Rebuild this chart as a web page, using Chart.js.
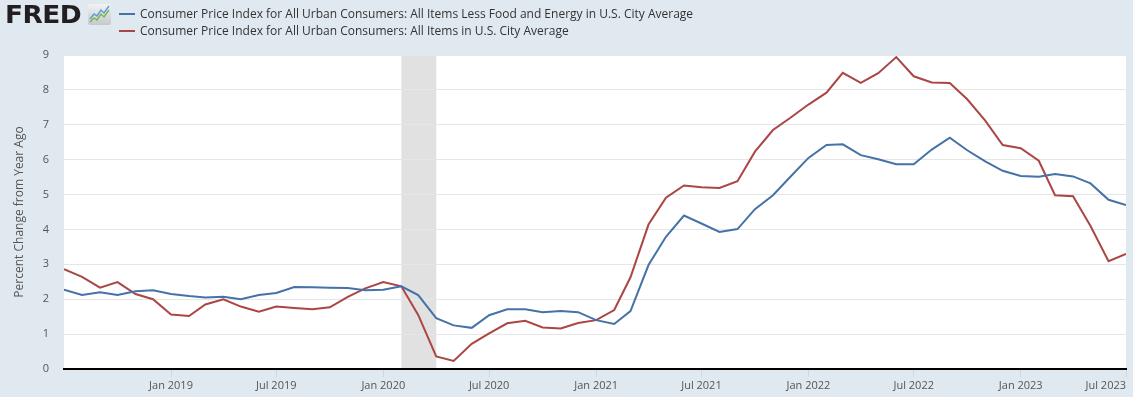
<!DOCTYPE html>
<html>
<head>
<meta charset="utf-8">
<script src="https://cdn.jsdelivr.net/npm/chart.js@4.4.1/dist/chart.umd.min.js"></script>
<style>
  html, body { margin: 0; padding: 0; background: #e1e9f0; }
  #wrap { position: relative; width: 1133px; height: 397px; }
  #chart { position: absolute; left: 0; top: 0; }
  #logo { position: absolute; left: 5px; top: 1px; font: 900 24px 'DejaVu Sans', sans-serif; color: #231f20; letter-spacing: -0.5px; transform: scaleX(1.1); transform-origin: left top; }
  #icon { position: absolute; left: 88px; top: 4px; }
  #legend { position: absolute; left: 119px; top: 5px; font: 12px 'Open Sans', sans-serif; color: #333; }
  .item { height: 17px; line-height: 17px; white-space: nowrap; }
  .sw { display: inline-block; width: 16px; height: 2px; vertical-align: middle; margin-right: 5px; position: relative; top: -1px; }
</style>
</head>
<body>
<div id="wrap">
  <canvas id="chart" width="1133" height="397"></canvas>
  <div id="logo">FRED</div>
  <svg id="icon" width="23" height="21" viewBox="0 0 23 21">
    <defs><linearGradient id="g" x1="0" y1="0" x2="0" y2="1"><stop offset="0" stop-color="#f2f2f2"/><stop offset="1" stop-color="#c4c9cd"/></linearGradient></defs>
    <rect x="0" y="0" width="23" height="21" rx="2" fill="url(#g)"/>
    <polyline points="2,15 6,10 9,12 13,6 16,9 21,2" fill="none" stroke="#5b9bd5" stroke-width="1.4"/>
    <polyline points="2,18 6,14 9,16 13,10 16,13 21,6" fill="none" stroke="#7fb446" stroke-width="1.4"/>
  </svg>
  <div id="legend"></div>
</div>
<script>
// --- 資料 ---
const months = [
  '2018-07','2018-08','2018-09','2018-10','2018-11','2018-12',
  '2019-01','2019-02','2019-03','2019-04','2019-05','2019-06','2019-07','2019-08','2019-09','2019-10','2019-11','2019-12',
  '2020-01','2020-02','2020-03','2020-04','2020-05','2020-06','2020-07','2020-08','2020-09','2020-10','2020-11','2020-12',
  '2021-01','2021-02','2021-03','2021-04','2021-05','2021-06','2021-07','2021-08','2021-09','2021-10','2021-11','2021-12',
  '2022-01','2022-02','2022-03','2022-04','2022-05','2022-06','2022-07','2022-08','2022-09','2022-10','2022-11','2022-12',
  '2023-01','2023-02','2023-03','2023-04','2023-05','2023-06','2023-07'
];
const coreCpi = [
  2.27, 2.12, 2.20, 2.12, 2.23, 2.26,
  2.15, 2.09, 2.05, 2.07, 2.00, 2.12, 2.18, 2.35, 2.34, 2.33, 2.32, 2.26,
  2.27, 2.37, 2.12, 1.46, 1.25, 1.18, 1.54, 1.71, 1.71, 1.63, 1.66, 1.63,
  1.40, 1.29, 1.66, 2.98, 3.79, 4.40, 4.17, 3.93, 4.01, 4.58, 4.98, 5.51,
  6.05, 6.42, 6.44, 6.13, 6.01, 5.87, 5.87, 6.29, 6.63, 6.27, 5.95, 5.68,
  5.53, 5.51, 5.59, 5.52, 5.32, 4.85, 4.70
];
const allCpi = [
  2.86, 2.64, 2.33, 2.49, 2.15, 2.00,
  1.56, 1.52, 1.85, 2.00, 1.79, 1.64, 1.79, 1.75, 1.71, 1.77, 2.07, 2.31,
  2.49, 2.37, 1.55, 0.36, 0.23, 0.72, 1.02, 1.31, 1.38, 1.19, 1.16, 1.32,
  1.40, 1.69, 2.63, 4.14, 4.91, 5.26, 5.21, 5.19, 5.38, 6.23, 6.85, 7.20,
  7.58, 7.92, 8.49, 8.20, 8.48, 8.94, 8.39, 8.21, 8.20, 7.73, 7.12, 6.42,
  6.33, 5.97, 4.98, 4.95, 4.10, 3.09, 3.30
];
const tickMonths = ['2018-07','2019-01','2019-07','2020-01','2020-07','2021-01','2021-07','2022-01','2022-07','2023-01','2023-07'];
const tickLabels = ['', 'Jan 2019','Jul 2019','Jan 2020','Jul 2020','Jan 2021','Jul 2021','Jan 2022','Jul 2022','Jan 2023','Jul 2023'];
const recession = ['2020-02', '2020-04'];
const seriesNames = [
  'Consumer Price Index for All Urban Consumers: All Items Less Food and Energy in U.S. City Average',
  'Consumer Price Index for All Urban Consumers: All Items in U.S. City Average'
];
const seriesColors = ['#4572a7', '#aa4643'];

// 月份轉換成天數 (以 2018-07 為起點)
const t0 = Date.UTC(2018, 6, 1);
function dayOf(m) {
  const [y, mo] = m.split('-').map(Number);
  return (Date.UTC(y, mo - 1, 1) - t0) / 86400000;
}

document.getElementById('legend').innerHTML = seriesNames.map((n, i) =>
  `<div class="item"><span class="sw" style="background:${seriesColors[i]}"></span>${n}</div>`
).join('');

// 白底 + 衰退期陰影
const plotBg = {
  id: 'plotBg',
  beforeDraw(chart) {
    const { ctx, chartArea: a, scales: { x } } = chart;
    ctx.save();
    ctx.fillStyle = '#ffffff';
    ctx.fillRect(a.left, a.top, a.right - a.left, a.bottom - a.top);
    const x1 = x.getPixelForValue(dayOf(recession[0]));
    const x2 = x.getPixelForValue(dayOf(recession[1]));
    ctx.fillStyle = '#e1e1e1';
    ctx.fillRect(x1, a.top, x2 - x1, a.bottom - a.top);
    ctx.restore();
  }
};

const toPoints = vals => vals.map((v, i) => ({ x: dayOf(months[i]), y: v }));

new Chart(document.getElementById('chart'), {
  type: 'line',
  data: {
    datasets: [
      { label: seriesNames[0], data: toPoints(coreCpi), borderColor: seriesColors[0], borderWidth: 2, pointRadius: 0, tension: 0 },
      { label: seriesNames[1], data: toPoints(allCpi), borderColor: seriesColors[1], borderWidth: 2, pointRadius: 0, tension: 0 }
    ]
  },
  options: {
    responsive: false,
    animation: false,
    layout: { padding: { left: 0, top: 55, right: 7, bottom: 0 } },
    plugins: { legend: { display: false }, tooltip: { enabled: false } },
    scales: {
      x: {
        type: 'linear',
        min: dayOf(months[0]),
        max: dayOf(months[months.length - 1]),
        afterBuildTicks: s => { s.ticks = tickMonths.map(m => ({ value: dayOf(m) })); },
        afterFit: s => { s.height = 28; },
        grid: {
          drawOnChartArea: false,
          tickLength: 8,
          tickColor: ctx => ctx.index === 0 ? 'rgba(0,0,0,0)' : '#ccd6eb'
        },
        border: { color: '#000', width: 2 },
        ticks: {
          autoSkip: false,
          maxRotation: 0,
          align: 'inner',
          padding: 2,
          color: '#555',
          font: { family: "'Open Sans', sans-serif", size: 11 },
          callback: (v, i) => tickLabels[i]
        }
      },
      y: {
        min: 0,
        max: 9,
        afterFit: s => { s.width = 64; },
        grid: { color: '#e6e6e6', drawTicks: false },
        border: { display: false },
        ticks: {
          stepSize: 1,
          padding: 15,
          color: '#555',
          font: { family: "'Open Sans', sans-serif", size: 11 }
        },
        title: {
          display: true,
          text: 'Percent Change from Year Ago',
          color: '#555',
          padding: { top: 12, bottom: 0 },
          font: { family: "'Open Sans', sans-serif", size: 12 }
        }
      }
    }
  },
  plugins: [plotBg]
});
</script>
</body>
</html>
